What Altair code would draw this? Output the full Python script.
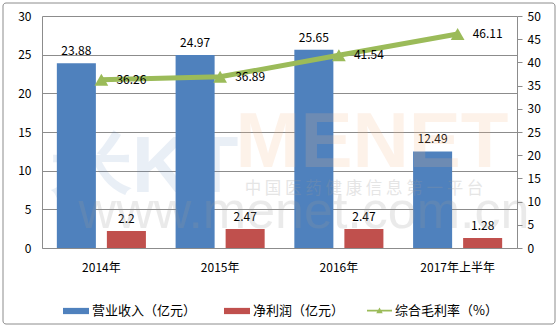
import altair as alt
import pandas as pd

years = ["2014年", "2015年", "2016年", "2017年上半年"]
series = ["营业收入（亿元）", "净利润（亿元）"]
revenue = [23.88, 24.97, 25.65, 12.49]
profit = [2.2, 2.47, 2.47, 1.28]
line_name = "综合毛利率（%）"
margin = [36.26, 36.89, 41.54, 46.11]
left_ticks = [0, 5, 10, 15, 20, 25, 30]
right_ticks = [0, 5, 10, 15, 20, 25, 30, 35, 40, 45, 50]

BLUE = "#4F81BD"
RED = "#C0504D"
GREEN = "#9BBB59"
GRID = "#8c8c8c"
FONT = "Noto Sans CJK SC"

bar_df = pd.DataFrame({
    "year": years * 2,
    "series": [series[0]] * len(years) + [series[1]] * len(years),
    "value": revenue + profit,
})
bar_df["label"] = bar_df["value"].map(lambda v: f"{v:g}")

line_df = pd.DataFrame({"year": years, "margin": margin, "name": line_name})
line_df["label"] = line_df["margin"].map(lambda v: f"{v:g}")

W, H = 475, 232

x_enc = alt.X(
    "year:N", sort=years,
    scale=alt.Scale(paddingInner=0.25, paddingOuter=0.125),
    axis=alt.Axis(title=None, labelAngle=0, ticks=False, tickSize=0,
                  labelPadding=14, domainColor=GRID, labelFontSize=12),
)
xoff = alt.XOffset("series:N", sort=series,
                   scale=alt.Scale(paddingInner=0.22, paddingOuter=0))

y_left = alt.Y(
    "value:Q", scale=alt.Scale(domain=[0, 30]),
    axis=alt.Axis(title=None, orient="left", values=left_ticks, grid=True,
                  gridColor=GRID, ticks=False, tickSize=0, labelPadding=11,
                  domainColor=GRID),
)

base_bar = alt.Chart(bar_df)
bars = base_bar.mark_bar().encode(
    x=x_enc, xOffset=xoff, y=y_left,
    color=alt.Color(
        "series:N",
        scale=alt.Scale(domain=series, range=[BLUE, RED]),
        legend=alt.Legend(
            title=None, orient="none", legendX=21, legendY=282,
            direction="horizontal", symbolType="M-1,-0.24H1V0.24H-1Z",
            symbolSize=676, symbolStrokeWidth=0, labelFontSize=13,
            labelFont=FONT, columnPadding=27, labelOffset=3,
        ),
    ),
)
bar_text = base_bar.mark_text(baseline="bottom", dy=-5, fontSize=12,
                              color="#000000", font=FONT).encode(
    x=x_enc, xOffset=xoff, y=y_left, text="label:N",
)

y_right = alt.Y(
    "margin:Q", scale=alt.Scale(domain=[0, 50]),
    axis=alt.Axis(title=None, orient="right", values=right_ticks, grid=False,
                  tickSize=5, tickColor=GRID, labelPadding=5, domainColor=GRID),
)
base_line = alt.Chart(line_df)
line_color = alt.Color(
    "name:N", scale=alt.Scale(domain=[line_name], range=[GREEN]),
    legend=alt.Legend(
        title=None, orient="none", legendX=325, legendY=282,
        symbolType="M-1,-0.07H1V0.07H-1Z M-0.26,0.22L0,-0.24L0.26,0.22Z",
        symbolSize=625, symbolStrokeWidth=0, symbolFillColor=GREEN,
        labelFontSize=13, labelFont=FONT, labelOffset=3,
    ),
)
line = base_line.mark_line(strokeWidth=5).encode(x=x_enc, y=y_right, color=line_color)
pts = base_line.mark_point(shape="triangle-up", filled=True, size=190, opacity=1).encode(
    x=x_enc, y=y_right, color=line_color)
line_text = base_line.mark_text(align="left", baseline="middle", dx=15,
                                fontSize=12, color="#000000", font=FONT).encode(
    x=x_enc, y=y_right, text="label:N")

wm_df = pd.DataFrame({"k": [0]})
wm = alt.Chart(wm_df)
wm_logo = wm.mark_text(fontSize=80, fontWeight="bold", font="Liberation Sans",
                       color=BLUE, opacity=0.12, align="center",
                       baseline="alphabetic").encode(
    x=alt.value(103), y=alt.value(176), text=alt.value("米KT"))
wm_menet = wm.mark_text(fontSize=78, fontWeight="bold", font="Liberation Sans",
                        color="#f7b98a", opacity=0.18, align="center",
                        baseline="alphabetic").encode(
    x=alt.value(330), y=alt.value(151), text=alt.value("MENET"))
wm_cn = wm.mark_text(fontSize=16.5, font=FONT, color="#9a9a9a", opacity=0.25,
                     align="center", baseline="middle").encode(
    x=alt.value(322), y=alt.value(173), text=alt.value("中 国 医 药 健 康 信 息 第 一 平 台"))
wm_www = wm.mark_text(fontSize=52, font="Liberation Sans", color="#9a9a9a",
                      opacity=0.2, align="center", baseline="alphabetic").encode(
    x=alt.value(262), y=alt.value(212), text=alt.value("www.menet.com.cn"))
frame = wm.mark_rect(fillOpacity=0, stroke="#8c8c8c", strokeWidth=1,
                     cornerRadius=3).encode(
    x=alt.value(-39), x2=alt.value(513), y=alt.value(-13), y2=alt.value(308))

bar_layer = alt.layer(bars, bar_text)
line_layer = alt.layer(line, pts, line_text)

chart = alt.layer(wm_logo, bar_layer, line_layer, wm_menet, wm_cn, wm_www, frame).resolve_scale(
    y="independent", color="independent"
).properties(
    width=W, height=H,
    autosize=alt.AutoSizeParams(type="none"),
    padding={"left": 42, "top": 16, "right": 42, "bottom": 81},
    background="white",
).configure_view(strokeWidth=0).configure_axis(
    labelFont=FONT, labelFontSize=12, labelColor="#000000",
).configure_legend(
    labelFont=FONT, labelColor="#000000",
)

chart.save("out.html", embed_options={"renderer": "svg", "actions": False})
